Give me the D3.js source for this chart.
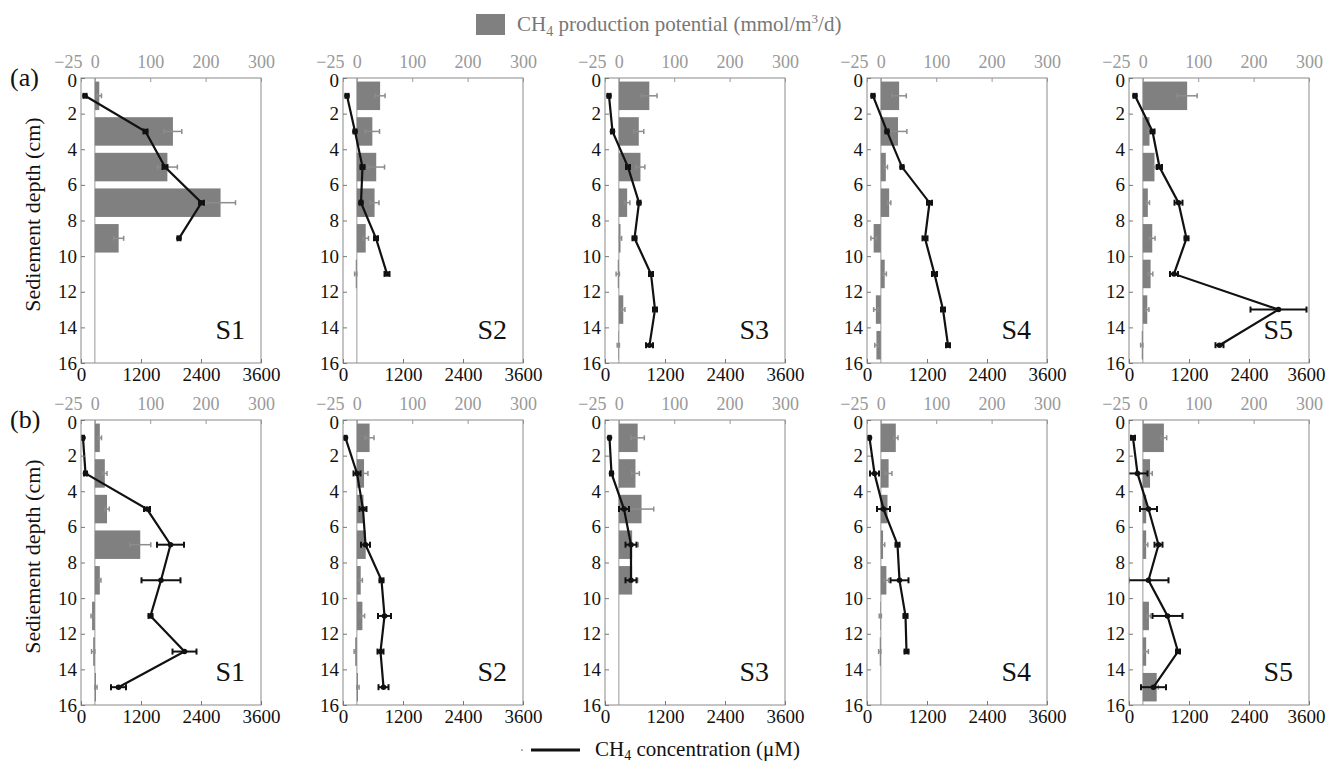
<!DOCTYPE html>
<html>
<head>
<script src="https://d3js.org/d3.v7.min.js"></script>
<style>
  body { margin: 0; background: #fff; }
  svg { display: block; font-family: "Liberation Serif", "Times New Roman", serif; }
  .frame { fill: none; stroke: #8a8a8a; stroke-width: 1; }
</style>
</head>
<body>
<svg id="chart" width="1328" height="762"></svg>
<script>
const depths = [1, 3, 5, 7, 9, 11, 13, 15];
const sites = ["S1", "S2", "S3", "S4", "S5"];
const rowLabels = ["(a)", "(b)"];
const prodTicks = [-25, 0, 100, 200, 300];
const concTicks = [0, 1200, 2400, 3600];
const depthTicks = [0, 2, 4, 6, 8, 10, 12, 14, 16];

// row (a): CH4 production potential (mmol/m3/d), one array per site
const prodA = [
  [8, 141, 131, 227, 43, null, null, null],
  [42, 28, 35, 32, 16, -2, null, null],
  [55, 36, 39, 15, 3, -2, 8, -1],
  [33, 31, 9, 15, -13, 7, -9, -8],
  [80, 12, 21, 9, 17, 14, 8, -2]
];
const prodErrA = [
  [4, 16, 18, 27, 9, null, null, null],
  [9, 13, 15, 8, 5, 2, null, null],
  [14, 9, 8, 5, 2, 3, 3, 2],
  [13, 16, 3, 3, 5, 3, 4, 3],
  [18, 3, 2, 3, 5, 4, 3, 2]
];
// row (a): CH4 concentration (uM)
const concA = [
  [80, 1290, 1680, 2410, 1960, null, null, null],
  [80, 240, 390, 360, 660, 880, null, null],
  [80, 150, 460, 680, 590, 920, 1000, 890],
  [120, 400, 700, 1250, 1160, 1350, 1520, 1620],
  [120, 470, 610, 990, 1150, 900, 2990, 1810]
];
const concErrA = [
  [30, 40, 50, 50, 30, null, null, null],
  [30, 30, 40, 30, 40, 50, null, null],
  [30, 30, 40, 30, 40, 40, 40, 70],
  [30, 30, 30, 50, 50, 50, 40, 40],
  [30, 40, 50, 80, 40, 80, 560, 80]
];

// row (b)
const prodB = [
  [9, 18, 22, 82, 9, -5, -3, 2],
  [23, 13, 12, 16, 7, 10, -3, 2],
  [34, 30, 41, 24, 24, null, null, null],
  [27, 14, 12, 4, 10, -1, -2, null],
  [38, 13, 6, 6, null, 11, 6, 25]
];
const prodErrB = [
  [3, 4, 4, 19, 2, 2, 3, 2],
  [8, 7, 4, 8, 3, 4, 2, 2],
  [12, 7, 22, 11, 10, null, null, null],
  [4, 6, 4, 3, 4, 2, 2, null],
  [5, 4, 3, 3, null, 3, 4, 3]
];
const concB = [
  [40, 90, 1320, 1790, 1600, 1390, 2070, 750],
  [50, 280, 400, 450, 770, 830, 750, 810],
  [90, 130, 380, 520, 520, null, null, null],
  [50, 150, 330, 610, 650, 770, 790, null],
  [80, 170, 390, 590, 390, 770, 980, 490]
];
const concErrB = [
  [20, 30, 60, 270, 390, 40, 240, 150],
  [20, 70, 70, 90, 40, 130, 60, 100],
  [20, 30, 100, 110, 110, null, null, null],
  [20, 90, 130, 40, 180, 40, 40, null],
  [40, 200, 170, 80, 400, 300, 40, 250]
];

const rowsData = [
  { prod: prodA, prodErr: prodErrA, conc: concA, concErr: concErrA },
  { prod: prodB, prodErr: prodErrB, conc: concB, concErr: concErrB }
];

const svg = d3.select('#chart');
const W = 180, H = 285;
const panelLeft = [81, 343, 605, 867, 1129];
const rowTop = [78, 420];

const y = d3.scaleLinear().domain([0, 16]).range([0, H]);
const xProd = d3.scaleLinear().domain([-25, 300]).range([0, W]);
const xConc = d3.scaleLinear().domain([0, 3600]).range([0, W]);

const defs = svg.append('defs');
defs.append('clipPath').attr('id', 'clip')
  .append('rect').attr('width', W).attr('height', H);

rowsData.forEach((row, r) => {
  // row letter
  svg.append('text').text(rowLabels[r])
    .attr('x', 10).attr('y', rowTop[r] + 8)
    .attr('font-size', 26).attr('fill', '#111');

  // y title
  svg.append('text').text('Sediement depth (cm)')
    .attr('transform', `translate(40, ${rowTop[r] + H / 2 - 6}) rotate(-90)`)
    .attr('text-anchor', 'middle')
    .attr('font-size', 22).attr('fill', '#111');

  sites.forEach((site, s) => {
    const g = svg.append('g').attr('transform', `translate(${panelLeft[s]}, ${rowTop[r]})`);
    const prod = row.prod[s], prodErr = row.prodErr[s];
    const conc = row.conc[s], concErr = row.concErr[s];

    const bars = depths.map((d, i) => ({ d, v: prod[i], e: prodErr[i] })).filter(b => b.v !== null);
    const pts = depths.map((d, i) => ({ d, v: conc[i], e: concErr[i] }));

    const plot = g.append('g').attr('clip-path', 'url(#clip)');

    // zero line of production axis
    plot.append('line')
      .attr('x1', xProd(0)).attr('x2', xProd(0))
      .attr('y1', 0).attr('y2', H)
      .attr('stroke', '#aaa').attr('stroke-width', 1.2);

    // bars
    plot.selectAll('rect.bar')
      .data(bars)
      .enter()
      .append('rect')
      .attr('class', 'bar')
      .attr('x', b => xProd(Math.min(0, b.v)))
      .attr('y', b => y(b.d - 0.8))
      .attr('width', b => Math.abs(xProd(b.v) - xProd(0)))
      .attr('height', b => y(b.d + 0.8) - y(b.d - 0.8))
      .attr('fill', '#808080');

    // bar error bars
    const be = plot.selectAll('g.berr')
      .data(bars.filter(b => b.e))
      .enter()
      .append('g')
      .attr('stroke', '#8c8c8c').attr('stroke-width', 1.5);
    be.append('line')
      .attr('x1', b => xProd(b.v - b.e)).attr('x2', b => xProd(b.v + b.e))
      .attr('y1', b => y(b.d)).attr('y2', b => y(b.d));
    be.append('line')
      .attr('x1', b => xProd(b.v + b.e)).attr('x2', b => xProd(b.v + b.e))
      .attr('y1', b => y(b.d) - 2.5).attr('y2', b => y(b.d) + 2.5);
    be.append('line')
      .attr('x1', b => xProd(b.v - b.e)).attr('x2', b => xProd(b.v - b.e))
      .attr('y1', b => y(b.d) - 2.5).attr('y2', b => y(b.d) + 2.5);

    // concentration line
    const line = d3.line()
      .defined(p => p.v !== null)
      .x(p => xConc(p.v))
      .y(p => y(p.d));
    plot.append('path')
      .datum(pts)
      .attr('d', line)
      .attr('fill', 'none')
      .attr('stroke', '#111')
      .attr('stroke-width', 2.2);

    const valid = pts.filter(p => p.v !== null);
    const ce = plot.selectAll('g.cerr')
      .data(valid)
      .enter()
      .append('g')
      .attr('stroke', '#111').attr('stroke-width', 2);
    ce.append('line')
      .attr('x1', p => xConc(p.v - p.e)).attr('x2', p => xConc(p.v + p.e))
      .attr('y1', p => y(p.d)).attr('y2', p => y(p.d));
    ce.append('line')
      .attr('x1', p => xConc(p.v - p.e)).attr('x2', p => xConc(p.v - p.e))
      .attr('y1', p => y(p.d) - 3).attr('y2', p => y(p.d) + 3);
    ce.append('line')
      .attr('x1', p => xConc(p.v + p.e)).attr('x2', p => xConc(p.v + p.e))
      .attr('y1', p => y(p.d) - 3).attr('y2', p => y(p.d) + 3);

    plot.selectAll('circle.pt')
      .data(valid)
      .enter()
      .append('circle')
      .attr('cx', p => xConc(p.v))
      .attr('cy', p => y(p.d))
      .attr('r', 2.8)
      .attr('fill', '#111');

    // frame
    g.append('rect').attr('class', 'frame').attr('width', W).attr('height', H);

    // top axis (production)
    const top = g.append('g')
      .call(d3.axisTop(xProd).tickValues(prodTicks).tickFormat(d3.format('d'))
        .tickSizeInner(-4).tickSizeOuter(0).tickPadding(10))
      .attr('font-family', null).attr('font-size', null);
    top.select('.domain').remove();
    top.selectAll('line').attr('stroke', '#999');
    top.selectAll('text')
      .attr('font-size', 18).attr('fill', '#999')
      .attr('text-anchor', d => d === -25 ? 'end' : 'middle')
      .attr('dx', d => d === -25 ? 1 : 0);

    // bottom axis (concentration)
    const bottom = g.append('g').attr('transform', `translate(0, ${H})`)
      .call(d3.axisBottom(xConc).tickValues(concTicks).tickFormat(d3.format('d'))
        .tickSizeInner(-4).tickSizeOuter(0).tickPadding(5))
      .attr('font-family', null).attr('font-size', null);
    bottom.select('.domain').remove();
    bottom.selectAll('line').attr('stroke', '#777');
    bottom.selectAll('text').attr('font-size', 19).attr('fill', '#111')
      .attr('dx', d => (s === sites.length - 1 && d === 3600) ? -3 : 0);

    // left axis (depth)
    const left = g.append('g')
      .call(d3.axisLeft(y).tickValues(depthTicks).tickFormat(d3.format('d'))
        .tickSizeInner(-4).tickSizeOuter(0).tickPadding(4))
      .attr('font-family', null).attr('font-size', null);
    left.select('.domain').remove();
    left.selectAll('line').attr('stroke', '#777');
    left.selectAll('text').attr('font-size', 19).attr('fill', '#111')
      .attr('dy', d => d === 0 ? '0.45em' : '0.32em');

    // site label
    g.append('text').text(site)
      .attr('x', W - 16).attr('y', H - 24)
      .attr('text-anchor', 'end')
      .attr('font-size', 28).attr('fill', '#111');
  });
});

// top legend
svg.append('rect').attr('x', 476).attr('y', 14).attr('width', 29).attr('height', 21).attr('fill', '#808080');
const t1 = svg.append('text').attr('x', 517).attr('y', 31).attr('font-size', 21).attr('fill', '#777');
t1.append('tspan').text('CH');
t1.append('tspan').text('4').attr('font-size', 14).attr('dy', 5);
t1.append('tspan').text(' production potential (mmol/m').attr('dy', -5);
t1.append('tspan').text('3').attr('font-size', 13).attr('dy', -8);
t1.append('tspan').text('/d)').attr('dy', 8);

// bottom legend
svg.append('circle').attr('cx', 522).attr('cy', 750).attr('r', 0.8).attr('fill', '#555');
svg.append('line').attr('x1', 531).attr('x2', 580).attr('y1', 750).attr('y2', 750)
  .attr('stroke', '#111').attr('stroke-width', 3);
const t2 = svg.append('text').attr('x', 595).attr('y', 756).attr('font-size', 21).attr('fill', '#111');
t2.append('tspan').text('CH');
t2.append('tspan').text('4').attr('font-size', 14).attr('dy', 4);
t2.append('tspan').text(' concentration (μM)').attr('dy', -4);
</script>
</body>
</html>
